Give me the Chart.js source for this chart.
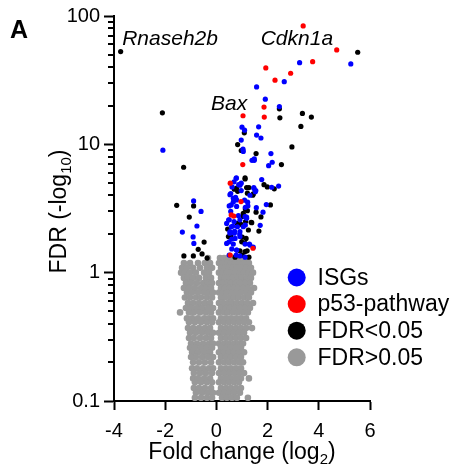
<!DOCTYPE html>
<html>
<head>
<meta charset="utf-8">
<script src="https://cdn.jsdelivr.net/npm/chart.js@4/dist/chart.umd.min.js"></script>
<style>
  html, body { margin: 0; padding: 0; background: #fff; }
  #wrap { width: 452px; height: 466px; position: relative; }
  canvas { display: block; }
</style>
</head>
<body>
<div id="wrap"><canvas id="c" width="452" height="466"></canvas></div>
<script>
// ---------------- DATA ----------------
const xTicks = [-4, -2, 0, 2, 4, 6];
const yTicks = [0.1, 1, 10, 100];
const yMinorTicks = [0.2, 0.3, 0.4, 0.5, 0.6, 0.7, 0.8, 0.9, 2, 3, 4, 5, 6, 7, 8, 9, 20, 30, 40, 50, 60, 70, 80, 90];

const seriesNames = ['ISGs', 'p53-pathway', 'FDR<0.05', 'FDR>0.05'];

// p53-pathway genes [log2 fold change, -log10 FDR]
const p53Points = [
  [3.39, 83.7], [4.70, 54.4], [3.76, 44.1], [1.93, 39.4], [2.90, 35.8], [2.29, 31.6],
  [1.86, 19.5], [1.04, 16.7], [1.87, 16.3], [1.03, 6.95], [0.54, 4.98], [0.96, 3.58],
  [0.58, 2.82], [0.68, 2.76], [1.43, 1.55], [0.54, 1.37]
];

// ISGs
const isgPoints = [
  [5.25, 42.3], [3.25, 43.3], [2.65, 30.8], [1.57, 28.0], [1.91, 22.5], [2.46, 19.7],
  [1.00, 13.6], [1.10, 12.9], [1.65, 13.7], [1.57, 11.8], [1.74, 11.2], [0.97, 10.8],
  [-2.09, 9.0], [1.04, 9.16], [1.05, 8.8], [2.13, 8.47], [1.48, 7.7], [1.48, 7.5],
  [1.39, 7.5], [2.18, 7.25], [2.04, 6.82], [1.77, 5.31], [2.16, 4.63], [2.43, 4.73],
  [1.95, 3.39], [1.56, 3.21], [1.82, 2.96], [1.71, 2.34], [1.47, 4.52], [1.52, 4.28],
  [0.77, 5.44], [0.69, 5.1], [0.61, 4.66], [0.92, 4.8], [0.53, 4.05], [0.75, 3.87],
  [0.66, 3.56], [0.50, 3.31], [0.79, 3.28], [1.10, 3.67], [1.23, 3.31], [0.48, 2.58],
  [1.18, 2.71], [0.64, 2.31], [1.05, 2.28], [0.71, 2.1], [0.91, 2.0], [0.60, 1.83],
  [1.29, 1.67], [0.79, 1.5], [0.77, 1.37], [0.40, 1.69], [0.53, 2.03], [0.40, 2.42],
  [0.56, 3.0], [-0.89, 3.62], [-0.60, 3.0], [-0.76, 2.31], [-1.33, 2.07], [-0.91, 1.9],
  [-0.88, 1.69], [0.78, 5.47], [0.87, 4.85], [0.97, 4.98], [0.97, 4.36], [1.46, 4.60],
  [1.31, 4.01], [1.54, 4.36], [0.56, 4.13], [0.66, 3.80], [0.79, 3.69], [0.58, 3.37],
  [1.22, 3.54], [1.13, 3.23], [0.86, 2.78], [1.12, 2.73], [0.50, 2.58], [0.69, 2.50],
  [0.92, 2.58], [1.18, 2.65], [0.58, 2.28], [0.82, 2.28], [1.13, 2.35], [0.53, 2.09],
  [0.70, 2.03], [0.92, 2.09], [0.73, 1.85], [0.92, 1.91], [0.50, 1.74], [0.66, 1.67],
  [1.12, 1.67], [1.31, 1.64], [1.44, 1.58], [0.60, 1.53], [0.79, 1.50], [0.50, 1.37],
  [0.92, 1.35], [1.12, 1.32]
];

// other significant genes (FDR<0.05)
const sigPoints = [
  [-3.74, 52.8], [5.52, 52.2], [2.46, 18.9], [-2.11, 17.6], [2.48, 16.1], [3.36, 17.4],
  [3.71, 16.3], [3.30, 13.8], [1.09, 12.3], [0.83, 9.95], [2.95, 9.55], [0.97, 8.95],
  [1.55, 8.47], [-1.28, 6.63], [2.54, 6.95], [1.86, 4.85], [1.99, 4.66], [2.26, 4.5],
  [2.11, 3.37], [1.55, 2.96], [1.74, 2.72], [1.38, 2.45], [1.66, 2.11], [1.18, 4.6],
  [1.42, 4.01], [1.12, 5.37], [0.70, 4.47], [0.83, 4.3], [1.13, 3.13], [1.04, 2.74],
  [0.82, 2.42], [1.14, 2.5], [0.44, 2.19], [0.47, 1.91], [1.01, 1.89], [1.12, 1.69],
  [1.20, 1.48], [1.01, 1.37], [-1.55, 3.35], [-0.89, 3.31], [-1.06, 2.71], [-0.48, 1.73],
  [-0.71, 1.52], [-1.27, 1.35], [-0.90, 1.35], [-0.56, 1.40], [-0.36, 1.30], [1.12, 5.47],
  [0.79, 4.55], [1.27, 4.60], [1.21, 4.16], [1.44, 4.11], [1.21, 3.04], [1.05, 2.90],
  [0.96, 2.38], [1.36, 2.47], [1.25, 2.15], [0.56, 1.91], [1.16, 1.85], [0.99, 1.74],
  [0.92, 1.48], [1.12, 1.46], [0.73, 1.32], [1.27, 1.32]
];

// non-significant genes (FDR>0.05): one -log10 FDR level per row, with the fold changes seen at that level
const grayLevels = [1.30, 1.19, 1.09, 1.00, 0.91, 0.83, 0.76, 0.70, 0.64, 0.58, 0.53, 0.49, 0.44, 0.41, 0.37,
  0.34, 0.31, 0.28, 0.26, 0.24, 0.22, 0.20, 0.18, 0.165, 0.15, 0.14, 0.126, 0.116, 0.106];
const grayFold = [
  [-0.33, 0.14, 0.30, 0.45, 0.61, 0.80, 1.00, 1.16],
  [-1.27, -1.03, -0.72, -0.45, -0.25, 0.10, 0.26, 0.41, 0.57, 0.73, 0.88, 1.08, 1.27],
  [-1.34, -1.15, -0.91, -0.64, -0.37, -0.17, 0.18, 0.34, 0.49, 0.65, 0.80, 0.96, 1.16, 1.35],
  [-1.38, -1.23, -1.03, -0.80, -0.48, -0.29, 0.10, 0.26, 0.41, 0.57, 0.73, 0.92, 1.08, 1.27, 1.43],
  [-1.27, -1.11, -0.91, -0.68, -0.41, -0.21, 0.18, 0.34, 0.49, 0.65, 0.84, 1.00, 1.20, 1.35],
  [-1.19, -0.99, -0.76, -0.52, -0.33, -0.17, 0.10, 0.26, 0.41, 0.57, 0.77, 0.92, 1.12, 1.31],
  [-1.27, -1.07, -0.84, -0.60, -0.41, -0.21, 0.18, 0.34, 0.49, 0.69, 0.84, 1.04, 1.23, 1.47],
  [-1.15, -0.95, -0.72, -0.48, -0.29, -0.13, 0.10, 0.26, 0.41, 0.61, 0.77, 0.96, 1.16, 1.35],
  [-1.23, -1.03, -0.80, -0.60, -0.37, -0.17, 0.18, 0.34, 0.53, 0.69, 0.88, 1.08, 1.27],
  [-1.11, -0.91, -0.68, -0.45, -0.25, 0.10, 0.26, 0.45, 0.61, 0.80, 1.00, 1.20, 1.43],
  [-1.19, -0.99, -0.76, -0.56, -0.33, -0.13, 0.18, 0.38, 0.53, 0.73, 0.92, 1.12, 1.31],
  [-1.42, -1.07, -0.88, -0.64, -0.41, -0.21, 0.10, 0.30, 0.45, 0.65, 0.84, 1.04, 1.23],
  [-1.15, -0.95, -0.72, -0.48, -0.29, -0.13, 0.18, 0.38, 0.57, 0.77, 0.96, 1.16],
  [-1.07, -0.84, -0.60, -0.37, -0.17, 0.10, 0.30, 0.49, 0.69, 0.88, 1.08, 1.27],
  [-1.11, -0.91, -0.68, -0.45, -0.25, 0.18, 0.38, 0.57, 0.77, 0.96, 1.16, 1.39],
  [-1.03, -0.80, -0.56, -0.33, -0.13, 0.10, 0.30, 0.49, 0.69, 0.88, 1.08],
  [-1.07, -0.88, -0.64, -0.41, -0.21, 0.18, 0.38, 0.57, 0.77, 0.96, 1.16],
  [-0.99, -0.76, -0.52, -0.29, -0.13, 0.10, 0.30, 0.49, 0.69, 0.88, 1.04],
  [-1.03, -0.84, -0.60, -0.37, -0.17, 0.18, 0.38, 0.57, 0.77, 0.96],
  [-0.95, -0.72, -0.48, -0.25, 0.10, 0.30, 0.49, 0.69, 0.88, 1.08],
  [-0.99, -0.80, -0.56, -0.33, -0.13, 0.18, 0.38, 0.57, 0.77, 0.96],
  [-0.91, -0.68, -0.45, -0.21, 0.10, 0.30, 0.49, 0.69, 0.88, 1.04],
  [-0.95, -0.76, -0.52, -0.29, -0.13, 0.18, 0.38, 0.57, 0.77, 0.96],
  [-0.88, -0.64, -0.41, -0.17, 0.10, 0.30, 0.49, 0.69, 0.88, 1.08],
  [-0.91, -0.72, -0.48, -0.25, 0.18, 0.38, 0.57, 0.77, 0.96, 1.27],
  [-0.84, -0.60, -0.37, -0.17, 0.10, 0.30, 0.49, 0.69, 0.88],
  [-0.88, -0.68, -0.45, -0.21, 0.18, 0.38, 0.57, 0.77, 0.96],
  [-0.80, -0.56, -0.33, -0.13, 0.10, 0.30, 0.49, 0.69, 0.92],
  [-0.84, -0.60, -0.37, -0.17, 0.22, 0.41, 0.61, 0.80, 1.23]
];

// gene labels and the (fold change, FDR) where each label's text starts
const geneLabels = ['Rnaseh2b', 'Cdkn1a', 'Bax'];
const geneLabelAnchors = [[-3.68, 59.6], [1.73, 59.6], [-0.21, 18.5]];

// ---------------- CHART ----------------
const FONT = "'Liberation Sans', Arial, Helvetica, sans-serif";
const COLORS = { isg: '#0000ff', p53: '#ff0000', sig: '#000000', ns: '#999999' };

const toXY = pts => pts.map(p => ({ x: p[0], y: p[1] }));
const grayData = [];
grayLevels.forEach((lvl, i) => grayFold[i].forEach(fc => grayData.push({ x: fc, y: lvl })));

function richWidth(ctx, parts) {
  let w = 0;
  for (const p of parts) { ctx.font = p.font; w += ctx.measureText(p.text).width; }
  return w;
}
function drawRich(ctx, parts, x, y) {
  let cx = x;
  for (const p of parts) {
    ctx.font = p.font;
    ctx.fillText(p.text, cx, y + (p.dy || 0));
    cx += ctx.measureText(p.text).width;
  }
}

const extras = {
  id: 'extras',
  afterDraw(chart) {
    const { ctx, chartArea } = chart;
    const xs = chart.scales.x, ys = chart.scales.y;
    ctx.save();
    // minor log ticks on y axis
    ctx.strokeStyle = '#000';
    ctx.lineWidth = 2;
    yMinorTicks.forEach(v => {
      const py = Math.round(ys.getPixelForValue(v));
      ctx.beginPath();
      ctx.moveTo(chartArea.left, py);
      ctx.lineTo(chartArea.left - 6, py);
      ctx.stroke();
    });
    ctx.fillStyle = '#000';
    ctx.textBaseline = 'alphabetic';
    ctx.textAlign = 'left';

    // gene labels
    ctx.font = 'italic 21px ' + FONT;
    geneLabels.forEach((t, i) => {
      const a = geneLabelAnchors[i];
      ctx.fillText(t, xs.getPixelForValue(a[0]), ys.getPixelForValue(a[1]));
    });

    // panel letter
    ctx.font = 'bold 25px ' + FONT;
    ctx.fillText('A', 10, 38);

    // x title
    const xParts = [
      { text: 'Fold change (log', font: '23px ' + FONT },
      { text: '2', font: '15px ' + FONT, dy: 5 },
      { text: ')', font: '23px ' + FONT }
    ];
    const xw = richWidth(ctx, xParts);
    const xc = (chartArea.left + chartArea.right) / 2;
    drawRich(ctx, xParts, xc - xw / 2, 459);

    // y title
    const yParts = [
      { text: 'FDR (-log', font: '23px ' + FONT },
      { text: '10', font: '15px ' + FONT, dy: 5 },
      { text: ')', font: '23px ' + FONT }
    ];
    const yw = richWidth(ctx, yParts);
    ctx.save();
    ctx.translate(66, (chartArea.top + chartArea.bottom) / 2 + 3);
    ctx.rotate(-Math.PI / 2);
    drawRich(ctx, yParts, -yw / 2, 0);
    ctx.restore();

    // legend
    const legColors = [COLORS.isg, COLORS.p53, COLORS.sig, COLORS.ns];
    ctx.font = '23px ' + FONT;
    ctx.textBaseline = 'middle';
    seriesNames.forEach((name, i) => {
      const cy = 277.5 + i * 26.6;
      ctx.fillStyle = legColors[i];
      ctx.beginPath();
      ctx.arc(296.7, cy, 9, 0, Math.PI * 2);
      ctx.fill();
      ctx.fillStyle = '#000';
      ctx.fillText(name, 317.5, cy + 1);
    });
    ctx.restore();
  }
};

const axisCommon = {
  grid: { display: true, drawOnChartArea: false, drawTicks: true, tickColor: '#000', tickWidth: 2 },
  border: { display: true, color: '#000', width: 2 },
  ticks: { color: '#000', font: { family: FONT, size: 20 } }
};

new Chart(document.getElementById('c'), {
  type: 'scatter',
  data: {
    datasets: [
      { label: seriesNames[1], data: toXY(p53Points), backgroundColor: COLORS.p53, pointRadius: 2.6, borderWidth: 0 },
      { label: seriesNames[0], data: toXY(isgPoints), backgroundColor: COLORS.isg, pointRadius: 2.6, borderWidth: 0 },
      { label: seriesNames[2], data: toXY(sigPoints), backgroundColor: COLORS.sig, pointRadius: 2.6, borderWidth: 0 },
      { label: seriesNames[3], data: grayData, backgroundColor: COLORS.ns, pointRadius: 3.3, borderWidth: 0 }
    ]
  },
  options: {
    responsive: false,
    animation: false,
    events: [],
    layout: { padding: { left: 0, right: 82, top: 16, bottom: 0 } },
    plugins: { legend: { display: false }, tooltip: { enabled: false } },
    scales: {
      x: {
        type: 'linear', min: -4, max: 6,
        grid: Object.assign({}, axisCommon.grid, { tickLength: 9 }),
        border: axisCommon.border,
        ticks: Object.assign({}, axisCommon.ticks, { padding: 9, maxRotation: 0, autoSkip: false }),
        afterBuildTicks: s => { s.ticks = xTicks.map(v => ({ value: v })); },
        afterFit: s => { s.height = 65; }
      },
      y: {
        type: 'logarithmic', min: 0.1, max: 100,
        grid: Object.assign({}, axisCommon.grid, { tickLength: 10 }),
        border: axisCommon.border,
        ticks: Object.assign({}, axisCommon.ticks, { padding: 4, autoSkip: false, callback: v => String(v) }),
        afterBuildTicks: s => { s.ticks = yTicks.map(v => ({ value: v })); },
        afterFit: s => { s.width = 114; }
      }
    }
  },
  plugins: [extras]
});
</script>
</body>
</html>
